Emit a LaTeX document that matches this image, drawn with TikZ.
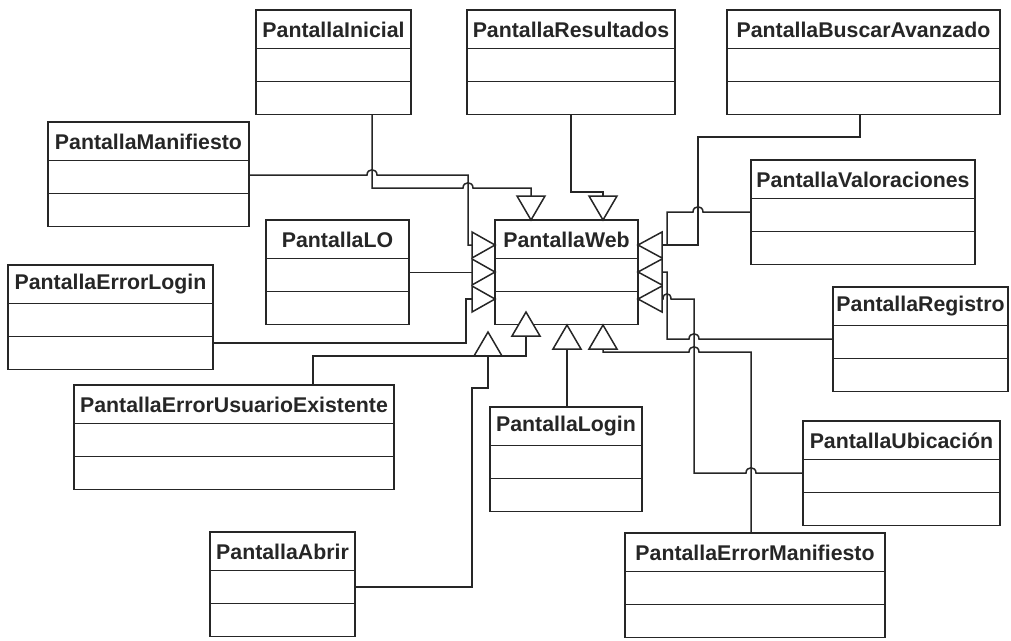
\documentclass[tikz,border=0pt]{standalone}
\usepackage{fontspec}
\setmainfont{Liberation Sans}

% class box: name, left x, top y, width, title
\newcommand\umlclass[5]{%
  \node[classbox, minimum width=#4pt] (#1) at (#2,#3) {};
  \draw[divider] ([yshift=-38.5pt]#1.north west) -- ([yshift=-38.5pt]#1.north east);
  \draw[divider] ([yshift=-71.5pt]#1.north west) -- ([yshift=-71.5pt]#1.north east);
  \node[classname] (#1-name) at ([yshift=-19.5pt]#1.north) {#5};
}
% hollow generalization heads: name of base midpoint, apex x, apex y
\newcommand\headdown[3]{%
  \draw[genhead] (#2,#3) -- (#2-14,#3-24) -- (#2+14,#3-24) -- cycle;
  \coordinate (#1) at (#2,#3-24);}
\newcommand\headup[3]{%
  \draw[genhead] (#2,#3) -- (#2-14,#3+24) -- (#2+14,#3+24) -- cycle;
  \coordinate (#1) at (#2,#3+24);}
\newcommand\headright[3]{%
  \draw[genhead] (#2,#3) -- (#2-23,#3-13) -- (#2-23,#3+13) -- cycle;
  \coordinate (#1) at (#2-23,#3);}
\newcommand\headleft[3]{%
  \draw[genhead] (#2,#3) -- (#2+24,#3-13) -- (#2+24,#3+13) -- cycle;
  \coordinate (#1) at (#2+24,#3);}

\begin{document}
\begin{tikzpicture}[x=1pt,y=-1pt,
  classbox/.style={rectangle, draw=black!85, line width=1.7pt, fill=white,
    inner sep=0pt, outer sep=0pt, minimum height=104.5pt, anchor=north west},
  divider/.style={draw=black!85, line width=1.7pt},
  classname/.style={font=\fontsize{21.3}{24}\selectfont\bfseries,
    inner sep=0pt, text=black!85},
  genhead/.style={draw=black!85, line width=1.5pt, fill=white, line join=miter},
  link/.style={draw=black!85, line width=1.5pt},
]
\useasboundingbox (0,0) rectangle (1011,640);

% classes
\umlclass{inicial}{256}{10}{155}{PantallaInicial}
\umlclass{resultados}{467}{10}{208}{PantallaResultados}
\umlclass{buscar}{727}{10}{273}{PantallaBuscarAvanzado}
\umlclass{manifiesto}{48}{122}{201}{PantallaManifiesto}
\umlclass{valoraciones}{751}{160}{224}{PantallaValoraciones}
\umlclass{lo}{266}{220}{143}{PantallaLO}
\umlclass{web}{495}{220}{143}{PantallaWeb}
\umlclass{errorlogin}{8}{265}{205}{PantallaErrorLogin}
\umlclass{registro}{833}{287}{175}{PantallaRegistro}
\umlclass{errusuario}{74}{385}{320}{PantallaErrorUsuarioExistente}
\umlclass{login}{490}{407}{152}{PantallaLogin}
\umlclass{ubicacion}{803}{421}{197}{PantallaUbicación}
\umlclass{abrir}{210}{532}{145}{PantallaAbrir}
\umlclass{errmanif}{625}{533}{260}{PantallaErrorManifiesto}

% generalization heads on PantallaWeb
\headdown{tT1}{531}{220}
\headdown{tT2}{603}{220}
\headright{tL1}{495}{245}
\headright{tL2}{495}{272}
\headright{tL3}{495}{299}
\headleft{tR1}{638}{245}
\headleft{tR2}{638}{272}
\headleft{tR3}{638}{299}
\headup{tB0}{488}{332}
\headup{tB1}{526}{312}
\headup{tB2}{567}{325}
\headup{tB3}{603}{325}

% connectors (horizontal segments jump over crossing verticals)
\draw[link] (inicial.south -| 372,0) -- (372,188) -- (463,188)
  .. controls (463,181) and (473,181) .. (473,188) -- (531,188) -- (tT1);
\draw[link] (resultados.south -| 571,0) -- (571,192) -- (603,192) -- (tT2);
\draw[link] (manifiesto.east |- 0,175) -- (367,175)
  .. controls (367,168) and (377,168) .. (377,175) -- (468,175) -- (468,245) -- (tL1);
\draw[link] (lo.east) -- (lo.east -| tL2);
\draw[link] (errorlogin.east |- 0,343) -- (466,343) -- (466,299) -- (tL3);

\draw[link] (buscar.south -| 860,0) -- (860,137) -- (698,137) -- (698,245) -- (tR1);
\draw[link] (valoraciones.west |- 0,212) -- (703,212)
  .. controls (703,205) and (693,205) .. (693,212) -- (667,212) -- (667,245);
\draw[link] (registro.west |- 0,339) -- (699,339)
  .. controls (699,332) and (689,332) .. (689,339) -- (667,339) -- (667,272) -- (tR2);
\draw[link] (ubicacion.west |- 0,473) -- (756,473)
  .. controls (756,466) and (746,466) .. (746,473) -- (694,473) -- (694,299) -- (671,299)
  .. controls (671,292) and (663,292) .. (663,299) -- (tR3);

\draw[link] (errmanif.north -| 751,0) -- (751,352) -- (699,352)
  .. controls (699,345) and (689,345) .. (689,352) -- (603,352) -- (tB3);
\draw[link] (login.north -| 567,0) -- (tB2);
\draw[link] (errusuario.north -| 313,0) -- (313,356) -- (526,356) -- (tB1);
\draw[link] (abrir.east |- 0,587) -- (472,587) -- (472,388) -- (488,388) -- (tB0);
\end{tikzpicture}
\end{document}
